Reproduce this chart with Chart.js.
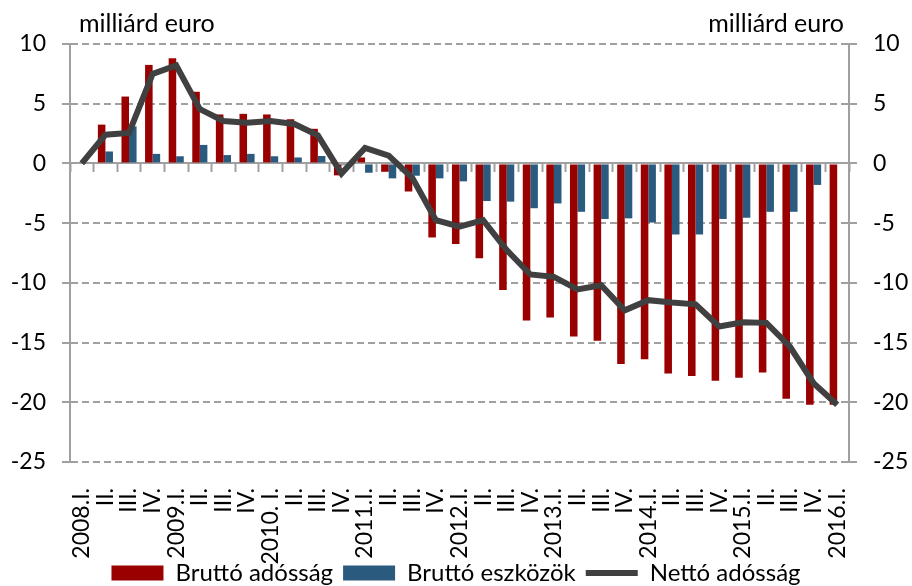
<!DOCTYPE html>
<html>
<head>
<meta charset="utf-8">
<script src="https://cdn.jsdelivr.net/npm/chart.js@4/dist/chart.umd.min.js"></script>
<style>
  html, body { margin: 0; padding: 0; background: #fff; }
  #wrap { width: 912px; height: 586px; }
</style>
</head>
<body>
<div id="wrap"><canvas id="chart" width="912" height="586"></canvas></div>
<script>
const quarters = [
  "2008.I.", "II.", "III.", "IV.", "2009.I.", "II.", "III.", "IV.",
  "2010. I.", "II.", "III.", "IV.", "2011.I.", "II.", "III.", "IV.",
  "2012.I.", "II.", "III.", "IV.", "2013.I.", "II.", "III.", "IV.",
  "2014.I.", "II.", "III.", "IV.", "2015.I.", "II.", "III.", "IV.", "2016.I."
];
const bruttoAdossag = [
  0, 3.25, 5.6, 8.25, 8.8, 6.0, 4.1, 4.15, 4.1, 3.7, 2.9, -1.0,
  0.5, -0.7, -2.35, -6.2, -6.75, -7.95, -10.6, -13.15, -12.9, -14.5,
  -14.85, -16.8, -16.4, -17.6, -17.8, -18.2, -17.95, -17.5, -19.7, -20.2, -20.2
];
const bruttoEszkozok = [
  0, 1.0, 3.1, 0.8, 0.6, 1.55, 0.7, 0.8, 0.6, 0.5, 0.62, -0.15,
  -0.78, -1.25, -1.03, -1.25, -1.5, -3.15, -3.2, -3.75, -3.35, -4.05,
  -4.65, -4.6, -4.95, -5.95, -5.95, -4.65, -4.55, -4.05, -4.05, -1.8, 0
];
const nettoAdossag = [
  0, 2.4, 2.55, 7.5, 8.2, 4.55, 3.55, 3.4, 3.55, 3.3, 2.35, -0.85,
  1.3, 0.65, -1.2, -4.75, -5.3, -4.75, -7.25, -9.3, -9.5, -10.55,
  -10.2, -12.3, -11.45, -11.65, -11.8, -13.65, -13.3, -13.35, -15.35, -18.4, -20.2
];
const yMin = -25, yMax = 10, yStep = 5;
const unitLabel = "milliárd euro";

const FONT = "Lato, 'Open Sans', sans-serif";
const gridGray = "#a0a0a0";

// "milliárd euro" above both y axes; also let the rotated x labels run past their box
const unitTitles = {
  id: "unitTitles",
  beforeDraw(chart) {
    chart.scales.x._computeLabelArea = () => undefined;
  },
  afterDraw(chart) {
    const ctx = chart.ctx;
    const area = chart.chartArea;
    ctx.save();
    ctx.font = "25px " + FONT;
    ctx.fillStyle = "#000";
    ctx.textBaseline = "alphabetic";
    ctx.textAlign = "left";
    ctx.fillText(unitLabel, area.left + 9, 32);
    ctx.textAlign = "right";
    ctx.fillText(unitLabel, area.right - 5, 32);
    ctx.restore();
  }
};

const yAxis = (position, drawArea) => ({
  position: position,
  min: yMin,
  max: yMax,
  afterFit(scale) { scale.width = position === "left" ? 70 : 63; },
  ticks: { stepSize: yStep, color: "#000", font: { size: 23, family: FONT }, padding: 16 },
  grid: {
    drawOnChartArea: drawArea,
    color: gridGray,
    lineWidth: 2,
    tickLength: 8,
    tickColor: gridGray,
    tickWidth: 2,
    tickBorderDash: [7, 4]
  },
  border: { display: true, color: gridGray, width: 2, dash: [7, 4] }
});

new Chart(document.getElementById("chart"), {
  type: "bar",
  data: {
    labels: quarters,
    datasets: [
      { label: "Bruttó adósság", data: bruttoAdossag, backgroundColor: "#990000", order: 1,
        categoryPercentage: 0.64, barPercentage: 1.0 },
      { label: "Bruttó eszközök", data: bruttoEszkozok, backgroundColor: "#2a5b7f", order: 1,
        categoryPercentage: 0.64, barPercentage: 1.0 },
      { type: "line", label: "Nettó adósság", data: nettoAdossag, borderColor: "#404040",
        backgroundColor: "#404040", borderWidth: 6, pointRadius: 0, tension: 0, order: 0 }
    ]
  },
  options: {
    responsive: false,
    animation: false,
    layout: { padding: { top: 44, left: 0, right: 0, bottom: -9 } },
    plugins: {
      tooltip: { enabled: false },
      legend: {
        position: "bottom",
        labels: {
          usePointStyle: true,
          pointStyleWidth: 52,
          boxHeight: 15,
          padding: 10,
          color: "#000",
          font: { size: 24, family: FONT },
          sort: (a, b) => a.datasetIndex - b.datasetIndex,
          generateLabels(chart) {
            const items = Chart.defaults.plugins.legend.labels.generateLabels(chart);
            items.forEach(it => {
              if (it.datasetIndex === 2) {
                it.pointStyle = "line";
                it.lineWidth = 6;
                it.strokeStyle = "#404040";
              } else {
                it.pointStyle = "rect";
                it.lineWidth = 0;
              }
            });
            return items;
          }
        }
      }
    },
    scales: {
      x: {
        afterFit(scale) { scale.height = 89; },
        ticks: { color: "#000", font: { size: 23, family: FONT }, minRotation: 90, maxRotation: 90,
          autoSkip: false, padding: 18 },
        grid: { display: false },
        border: { display: false }
      },
      x0: {
        type: "category",
        position: { y: 0 },
        ticks: { display: false },
        grid: { display: true, drawOnChartArea: false, offset: true, tickLength: 8,
          tickColor: gridGray, tickWidth: 2 },
        border: { display: true, color: gridGray, width: 2 }
      },
      y: yAxis("left", true),
      y2: yAxis("right", false)
    }
  },
  plugins: [unitTitles]
});
</script>
</body>
</html>
